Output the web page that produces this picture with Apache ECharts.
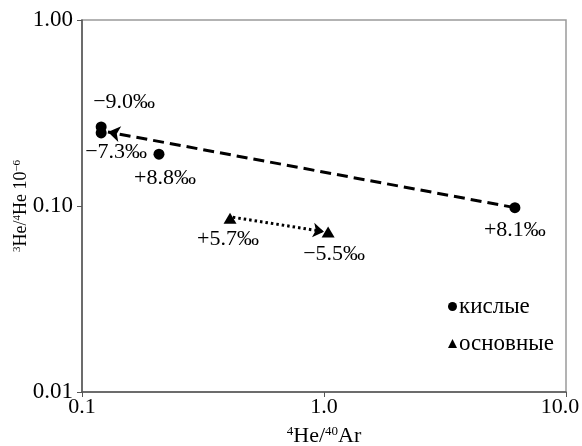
<!DOCTYPE html>
<html>
<head>
<meta charset="utf-8">
<script src="https://cdn.jsdelivr.net/npm/echarts@6/dist/echarts.min.js"></script>
<style>html,body{margin:0;padding:0;background:#fff}#c{width:582px;height:446px}</style>
</head>
<body>
<div id="c"></div>
<script>
// ---- data ----
var acidX = [0.12, 0.12, 0.208, 6.15];
var acidY = [0.266, 0.247, 0.19, 0.098];
var acidLabels = ['\u22129.0\u2030', '\u22127.3\u2030', '+8.8\u2030', '+8.1\u2030'];
var basicX = [0.409, 1.04];
var basicY = [0.086, 0.0724];
var basicLabels = ['+5.7\u2030', '\u22125.5\u2030'];
var seriesNames = ['кислые', 'основные'];
var xTicks = ['0.1', '1.0', '10.0'];
var yTicks = ['0.01', '0.10', '1.00'];
// arrows: [startX, startY, endX, endY]
var dashedArrow = [6.15, 0.098, 0.128, 0.25];
var dottedArrow = [0.42, 0.087, 1.0, 0.0728];

// ---- layout (label placement) ----
var acidOffsets = [[23, -25], [15, 19], [6, 24], [0, 23]];
var basicOffsets = [[-2, 21], [6, 22]];

var FONT = '"Liberation Serif", "Times New Roman", serif';

function mk(xs, ys, labels, offs) {
  return xs.map(function (x, i) {
    return {
      value: [x, ys[i]],
      label: { show: true, formatter: labels[i], position: 'inside', offset: offs[i],
               color: '#000', fontFamily: FONT, fontSize: 22 }
    };
  });
}

var chart = echarts.init(document.getElementById('c'), null, { renderer: 'canvas' });
chart.setOption({
  animation: false,
  backgroundColor: '#fff',
  grid: { left: 82, right: 16, top: 20, bottom: 54, outerBoundsMode: 'none', containLabel: false,
          show: true, borderColor: '#9a9a9a', borderWidth: 1.5, backgroundColor: 'transparent' },
  legend: {
    orient: 'vertical', left: 443, top: 290, itemWidth: 9, itemHeight: 9, itemGap: 14,
    textStyle: { fontFamily: FONT, fontSize: 23, color: '#000', padding: [0, 0, 0, -3] },
    data: [{ name: seriesNames[0], icon: 'circle' }, { name: seriesNames[1], icon: 'triangle' }]
  },
  xAxis: {
    type: 'log', logBase: 10, min: 0.1, max: 10,
    name: '{s|4}He/{s|40}Ar', nameLocation: 'middle', nameGap: 33, nameMoveOverlap: false,
    nameTextStyle: { fontFamily: FONT, fontSize: 22, color: '#000',
      rich: { s: { fontFamily: FONT, fontSize: 13, color: '#000', padding: [0, 0, 8, 0] } } },
    axisLine: { lineStyle: { color: '#555', width: 1.5 } },
    axisTick: { show: true, length: 5, lineStyle: { color: '#555' } },
    axisLabel: { fontFamily: FONT, fontSize: 22, color: '#000', margin: 4,
      rich: { r: { fontFamily: FONT, fontSize: 22, color: '#000', padding: [0, 12, 0, 0] } },
      formatter: function (v) {
        var i = Math.round(Math.log10(v)) + 1;
        return i === xTicks.length - 1 ? '{r|' + xTicks[i] + '}' : xTicks[i];
      } },
    splitLine: { show: false }, minorTick: { show: false }
  },
  yAxis: {
    type: 'log', logBase: 10, min: 0.01, max: 1,
    name: '{s|3}He/{s|4}He 10{s|\u22126}', nameLocation: 'middle', nameGap: 52, nameRotate: 90,
    nameMoveOverlap: false,
    nameTextStyle: { fontFamily: FONT, fontSize: 18, color: '#000',
      rich: { s: { fontFamily: FONT, fontSize: 11, color: '#000', padding: [0, 0, 7, 0] } } },
    axisLine: { lineStyle: { color: '#555', width: 1.5 } },
    axisTick: { show: true, length: 5, lineStyle: { color: '#555' } },
    axisLabel: { fontFamily: FONT, fontSize: 23, color: '#000', margin: 9,
      formatter: function (v) { var i = Math.round(Math.log10(v)) + 2; return yTicks[i]; } },
    splitLine: { show: false }, minorTick: { show: false }
  },
  series: [
    {
      name: seriesNames[0], type: 'scatter', symbol: 'circle', symbolSize: 11,
      itemStyle: { color: '#000', opacity: 1 }, z: 3,
      data: mk(acidX, acidY, acidLabels, acidOffsets),
      markLine: {
        silent: true, symbol: ['none', 'arrow'], symbolSize: 12,
        label: { show: false },
        lineStyle: { color: '#000', width: 3, type: [11, 6], opacity: 1 },
        data: [[{ coord: [dashedArrow[0], dashedArrow[1]] }, { coord: [dashedArrow[2], dashedArrow[3]] }]]
      }
    },
    {
      name: seriesNames[1], type: 'scatter', symbol: 'triangle', symbolSize: [13, 11],
      itemStyle: { color: '#000', opacity: 1 }, z: 3,
      data: mk(basicX, basicY, basicLabels, basicOffsets),
      markLine: {
        silent: true, symbol: ['none', 'arrow'], symbolSize: 11,
        label: { show: false },
        lineStyle: { color: '#000', width: 3, type: [2.5, 3], opacity: 1 },
        data: [[{ coord: [dottedArrow[0], dottedArrow[1]] }, { coord: [dottedArrow[2], dottedArrow[3]] }]]
      }
    }
  ]
});
</script>
</body>
</html>
